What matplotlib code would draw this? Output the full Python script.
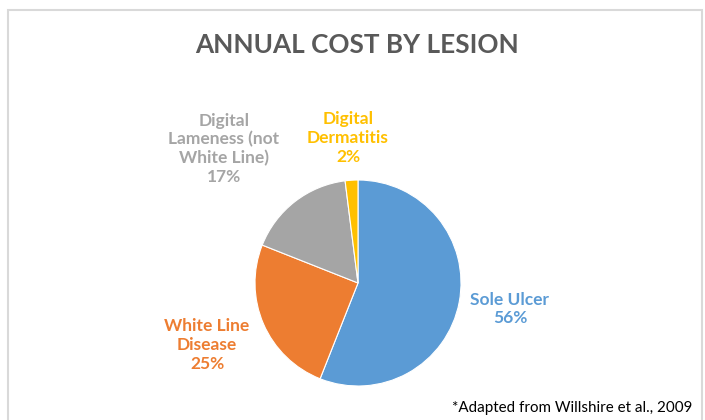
import matplotlib
matplotlib.use("Agg")
import matplotlib.pyplot as plt
from matplotlib.patches import Rectangle

# data
labels = ["Sole Ulcer", "White Line\nDisease", "Digital\nLameness (not\nWhite Line)", "Digital\nDermatitis"]
shares = [56, 25, 17, 2]
colors = ["#5B9BD5", "#ED7D31", "#A5A5A5", "#FFC000"]

# label anchor positions (pixel centers in the 705x420 image)
label_px = [(510, 309), (207, 345), (224, 149), (348, 138)]

W, H = 705, 420
cx, cy, r = 358, 283, 103

plt.rcParams['font.family'] = ['Lato', 'DejaVu Sans']

fig = plt.figure(figsize=(W / 100, H / 100), dpi=100)
fig.patch.set_facecolor("white")

# chart border
fig.add_artist(Rectangle((8 / W, -0.05), (702 - 8) / W, (H - 10) / H + 0.05,
                         transform=fig.transFigure, fill=False,
                         edgecolor="#D9D9D9", linewidth=1.5))

fig.text(357 / W, 1 - 45 / H, "ANNUAL COST BY LESION",
         ha="center", va="center", fontsize=18.8, fontweight="bold", color="#595959")

ax = fig.add_axes([(cx - r) / W, (H - cy - r) / H, 2 * r / W, 2 * r / H])
ax.pie(shares, colors=colors, startangle=90, counterclock=False,
       wedgeprops=dict(edgecolor="white", linewidth=0.8))
ax.set_xlim(-1, 1)
ax.set_ylim(-1, 1)
ax.set_aspect("equal")
ax.axis("off")

for lab, val, col, (px, py) in zip(labels, shares, colors, label_px):
    ax.text((px - cx) / r, (cy - py) / r, f"{lab}\n{val}%", ha="center", va="center",
            fontsize=12.5, fontweight="bold", color=col, linespacing=1.2, clip_on=False)

fig.text(692 / W, 1 - 408 / H, "*Adapted from Willshire et al., 2009",
         ha="right", va="center", fontsize=10.9, color="black")

fig.savefig("out.png", dpi=100)
